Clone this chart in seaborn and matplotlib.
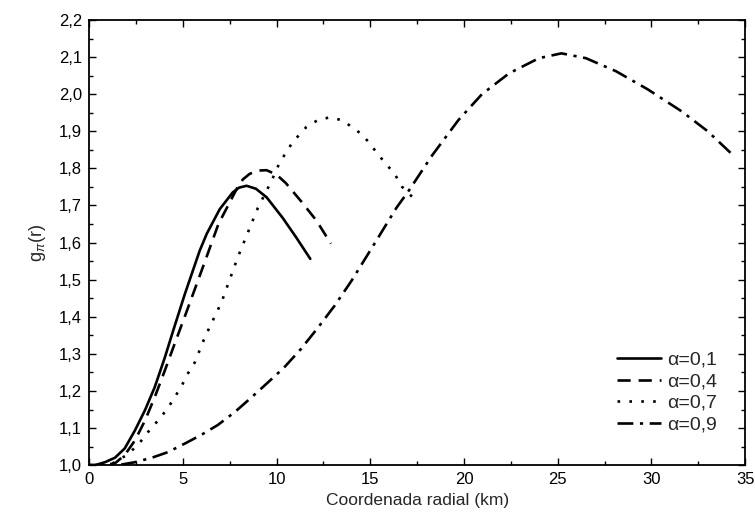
import numpy as np
import pandas as pd
import matplotlib
matplotlib.use("Agg")
import matplotlib.pyplot as plt
import seaborn as sns
from matplotlib.ticker import MultipleLocator, FuncFormatter

# Curves (radial coordinate in km, g_pi(r))
x_01 = [0.0, 0.32, 0.85, 1.38, 1.9, 2.45, 2.98, 3.5, 4.04, 4.47, 5.1, 5.9, 6.28, 6.97,
        7.66, 8.0, 8.4, 8.9, 9.47, 10.32, 11.06, 11.8]
y_01 = [1.0, 1.0, 1.008, 1.02, 1.045, 1.094, 1.148, 1.21, 1.29, 1.36, 1.46, 1.578, 1.624, 1.69,
        1.735, 1.748, 1.753, 1.745, 1.722, 1.667, 1.613, 1.556]

x_04 = [0.0, 0.8, 1.38, 1.9, 2.45, 2.98, 3.5, 4.04, 4.57, 5.1, 6.0, 6.9, 7.9, 8.2, 8.56,
        9.0, 9.47, 10.0, 10.5, 11.38, 12.13, 12.9]
y_04 = [1.0, 1.0, 1.005, 1.027, 1.067, 1.12, 1.183, 1.255, 1.328, 1.40, 1.524, 1.65, 1.747, 1.77, 1.785,
        1.794, 1.795, 1.783, 1.76, 1.707, 1.659, 1.597]

x_07 = [0.0, 1.1, 2.0, 2.6, 3.14, 3.67, 4.15, 4.57, 4.95, 5.27, 5.64, 5.9, 6.17, 7.07, 7.93,
        9.0, 9.73, 10.16, 10.85, 11.6, 12.2, 12.8, 13.5, 14.6, 15.7, 16.3, 16.7, 17.3]
y_07 = [1.0, 1.0, 1.027, 1.054, 1.089, 1.12, 1.15, 1.183, 1.215, 1.247, 1.277, 1.31, 1.344, 1.44, 1.56,
        1.693, 1.766, 1.815, 1.87, 1.912, 1.93, 1.937, 1.93, 1.89, 1.82, 1.785, 1.75, 1.72]

x_09 = [0.0, 1.54, 2.45, 3.35, 4.2, 5.1, 6.0, 6.86, 7.77, 8.67, 9.52, 10.4, 11.3, 12.2, 13.1, 14.0, 15.2,
        16.4, 17.07, 18.3, 19.7, 20.96, 22.4, 24.0, 25.2, 26.5, 28.1, 29.8, 31.6, 33.0, 34.3]
y_09 = [1.0, 1.0, 1.008, 1.02, 1.035, 1.058, 1.082, 1.108, 1.143, 1.183, 1.222, 1.263, 1.313, 1.37, 1.43, 1.497, 1.595,
        1.694, 1.741, 1.835, 1.93, 2.0, 2.056, 2.097, 2.11, 2.097, 2.062, 2.013, 1.954, 1.90, 1.838]

labels = ["α=0,1", "α=0,4", "α=0,7", "α=0,9"]
styles = ["-", (0, (5, 3)), (0, (1, 3.5)), (0, (6, 2.5, 1.2, 2.5))]

sns.set_style("ticks")
plt.rcParams['font.family'] = ['Liberation Sans', 'DejaVu Sans']
plt.rcParams['mathtext.fontset'] = 'custom'
plt.rcParams['mathtext.rm'] = 'Liberation Sans'
plt.rcParams['mathtext.it'] = 'Liberation Sans:italic'

fig = plt.figure(figsize=(7.55, 5.25), dpi=100)
ax = fig.add_axes([0.118, 0.114, 0.869, 0.848])

series = [(x_01, y_01), (x_04, y_04), (x_07, y_07), (x_09, y_09)]
for (xs, ys), lab, ls in zip(series, labels, styles):
    sns.lineplot(x=xs, y=ys, ax=ax, color="black", linestyle=ls, linewidth=1.9,
                 label=lab, sort=False, estimator=None)

ax.set_xlim(0, 35)
ax.set_ylim(1.0, 2.2)
ax.xaxis.set_major_locator(MultipleLocator(5))
ax.xaxis.set_minor_locator(MultipleLocator(2.5))
ax.yaxis.set_major_locator(MultipleLocator(0.1))
ax.yaxis.set_minor_locator(MultipleLocator(0.05))
ax.xaxis.set_major_formatter(FuncFormatter(lambda v, p: f"{v:.0f}"))
ax.yaxis.set_major_formatter(FuncFormatter(lambda v, p: f"{v:.1f}".replace(".", ",")))
ax.tick_params(which="both", direction="in", top=True, right=True, colors="black", labelsize=12)
ax.tick_params(which="major", length=5, width=1, pad=5)
ax.tick_params(which="minor", length=3, width=1)
for sp in ax.spines.values():
    sp.set_linewidth(1.3)
    sp.set_color("black")

ax.set_xlabel("Coordenada radial (km)", fontsize=12.5, labelpad=4)
ax.set_ylabel(r"g$_{\pi}$(r)", fontsize=13, labelpad=8)

ax.legend(loc="lower right", bbox_to_anchor=(0.975, 0.045), frameon=False, fontsize=14,
          handlelength=2.3, handletextpad=0.3, labelspacing=0.2, borderaxespad=0.2)

fig.savefig("out.png", dpi=100)
